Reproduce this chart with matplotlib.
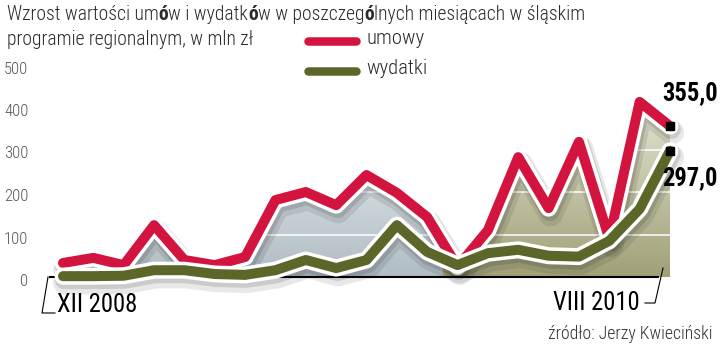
import numpy as np
import matplotlib
matplotlib.use("Agg")
import matplotlib.pyplot as plt
from matplotlib import font_manager as fm
from matplotlib.transforms import ScaledTranslation
import matplotlib.patheffects as pe
from matplotlib.colors import to_rgb

# ---------------- data ----------------
months = ["XII 2008", "I 2009", "II 2009", "III 2009", "IV 2009", "V 2009", "VI 2009",
          "VII 2009", "VIII 2009", "IX 2009", "X 2009", "XI 2009", "XII 2009",
          "I 2010", "II 2010", "III 2010", "IV 2010", "V 2010", "VI 2010", "VII 2010",
          "VIII 2010"]
umowy = [33, 45, 28, 122, 40, 28, 47, 181, 200, 169, 240, 198, 141,
         24, 110, 282, 162, 318, 90, 412, 355]
wydatki = [2, 2, 3, 16, 16, 7, 5, 16, 40, 21, 40, 122, 59,
           28, 56, 64, 50, 48, 85, 160, 297]
y_ticks = [0, 100, 200, 300, 400, 500]
series_names = ["umowy", "wydatki"]
end_labels = ["355,0", "297,0"]
title_parts = [("Wzrost wartości um", False), ("ó", True), ("w i wydatk", False),
               ("ó", True), ("w w poszczeg", False), ("ó", True),
               ("lnych miesiącach w śląskim", False)]
title_line2 = "programie regionalnym, w mln zł"
source = "źródło: Jerzy Kwieciński"

RED = "#d3143f"
OLIVE = "#5b6628"

# ---------------- fonts ----------------
avail = {}
for f in fm.fontManager.ttflist:
    avail.setdefault(f.name, set()).add(f.weight)


def pick(names):
    for n in names:
        if n in avail:
            return n
    return "DejaVu Sans"


NARROW = pick(["Liberation Sans Narrow", "Roboto Condensed", "Open Sans Condensed",
               "Roboto", "Liberation Sans"])
LIGHT_W = "light" if any(w in (200, 300, "light") for w in avail.get(NARROW, [])) else "normal"

# ---------------- figure / axes ----------------
W, H = 720, 344
fig = plt.figure(figsize=(W / 100, H / 100), dpi=100)

X0_PX, STEP_PX = 63, 30.35          # month index 0 position and spacing
ZERO_PX, PX_UNIT = 277, 0.425       # baseline and pixels per mln zl
AX_L, AX_R, AX_T = 45, 690, 60

ax = fig.add_axes([AX_L / W, (H - ZERO_PX) / H, (AX_R - AX_L) / W, (ZERO_PX - AX_T) / H])
xlim = ((AX_L - X0_PX) / STEP_PX, (AX_R - X0_PX) / STEP_PX)
ymax = (ZERO_PX - AX_T) / PX_UNIT
ax.patch.set_visible(False)

x = np.arange(len(months))

# area under "umowy" with year-alternating gradient
poly = ax.fill_between(x, 0, umowy, facecolor="none", edgecolor="none", zorder=1)
clip = poly.get_paths()[0]

nx, ny = 600, 200
xs_img = np.linspace(xlim[0], xlim[1], nx)
years = np.array([m.split()[-1] for m in months])
year_of_col = years[np.clip(np.round(xs_img).astype(int), 0, len(months) - 1)]
t = np.linspace(0, 1, ny)[:, None, None]
blue = np.array(to_rgb("#b0bdc3")) * (1 - t) + np.array(to_rgb("#ffffff")) * t
olive = np.array(to_rgb("#a0a077")) * (1 - t) + np.array(to_rgb("#f4f4ea")) * t
mask = (year_of_col == "2009")[None, :, None]
img = np.where(mask, blue, olive)
im = ax.imshow(img, extent=(xlim[0], xlim[1], 0, ymax), origin="lower", aspect="auto",
               zorder=1, interpolation="bilinear")
im.set_clip_path(clip, ax.transData)

for v in y_ticks[1:4]:
    gl = ax.axhline(v, color="white", lw=1.1, zorder=1.5)
    gl.set_clip_path(clip, ax.transData)


def fx(lw_px):
    return lw_px * 0.72


for y, col in [(umowy, RED), (wydatki, OLIVE)]:
    ax.plot(x, y, color=col, lw=fx(10), solid_capstyle="round", solid_joinstyle="round",
            zorder=3, clip_on=False,
            path_effects=[pe.SimpleLineShadow(offset=(1.5, -4.5), shadow_color="black",
                                              alpha=0.09, linewidth=fx(24)),
                          pe.SimpleLineShadow(offset=(1, -2.5), shadow_color="black",
                                              alpha=0.12, linewidth=fx(19)),
                          pe.Stroke(linewidth=fx(17), foreground="white"),
                          pe.Normal()])
    ax.plot(x[-1], y[-1], marker="s", ms=5.2, mfc="black", mec="black", zorder=6,
            clip_on=False)

ax.set_xlim(*xlim)
ax.set_ylim(0, ymax)
for s in ["left", "right", "top"]:
    ax.spines[s].set_visible(False)
ax.spines["bottom"].set_bounds(x[0] - 0.43, x[-1] - 0.4)
ax.spines["bottom"].set_linewidth(1.5)
ax.spines["bottom"].set_color("black")
ax.set_xticks([])
ax.set_yticks(y_ticks)
ax.set_yticklabels([str(v) for v in y_ticks], fontsize=12, color="#555555",
                   family=NARROW, fontweight=LIGHT_W)
ax.tick_params(axis="y", length=0, pad=12)
for lbl in ax.get_yticklabels():
    lbl.set_transform(lbl.get_transform() + ScaledTranslation(0, -0.03, fig.dpi_scale_trans))

# end value labels
lab_r = ax.annotate(end_labels[0], xy=(x[-1], umowy[-1]), xytext=(-8, 26),
                    textcoords="offset pixels", ha="left", va="baseline",
                    fontsize=15, fontweight="bold", family=NARROW, color="black",
                    annotation_clip=False)
lab_g = ax.annotate(end_labels[1], xy=(x[-1], wydatki[-1]), xytext=(-8, -34),
                    textcoords="offset pixels", ha="left", va="baseline",
                    fontsize=15, fontweight="bold", family=NARROW, color="black",
                    annotation_clip=False)

# ---------------- overlay (pixel coordinates) ----------------
ov = fig.add_axes([0, 0, 1, 1])
ov.set_xlim(0, W)
ov.set_ylim(H, 0)
ov.axis("off")
ov.patch.set_visible(False)

TC = "#2b2b2b"
pieces = []
first = ov.text(7, 20, title_parts[0][0], ha="left", va="baseline", fontsize=14,
                family=NARROW, fontweight=LIGHT_W, color=TC)
pieces.append(first)
prev = first
for txt, bold in title_parts[1:]:
    a = ov.annotate(txt, xy=(1, 0), xycoords=prev, ha="left", va="bottom", fontsize=14,
                    family=NARROW, fontweight=("bold" if bold else LIGHT_W), color=TC)
    pieces.append(a)
    prev = a
line2 = ov.text(7, 45, title_line2, ha="left", va="baseline", fontsize=14,
                family=NARROW, fontweight=LIGHT_W, color=TC)

leg_texts = []
for name, col, yc, base in [(series_names[0], RED, 41, 44), (series_names[1], OLIVE, 71, 74)]:
    ov.plot([308, 356], [yc, yc], color=col, lw=fx(8.5), solid_capstyle="round")
    leg_texts.append(ov.text(366, base, name, ha="left", va="baseline", fontsize=14,
                             family=NARROW, fontweight=LIGHT_W, color=TC))

d_start = ov.text(57, 312, months[0], ha="left", va="baseline", fontsize=15,
                  family=NARROW, color="black")
d_end = ov.text(640, 310, months[-1], ha="right", va="baseline", fontsize=15,
                family=NARROW, color="black")
ov.plot([48, 42, 55], [277, 313, 313], color="black", lw=0.8)
ov.plot([645, 655, 663], [303, 303, 268], color="black", lw=0.8)

src = ov.text(713, 339, source, ha="right", va="baseline", fontsize=11,
              family=NARROW, fontweight=LIGHT_W, color="#333333")


def fit_width(texts, target):
    fig.canvas.draw()
    r = fig.canvas.get_renderer()
    bbs = [tt.get_window_extent(r) for tt in texts]
    w = max(b.x1 for b in bbs) - min(b.x0 for b in bbs)
    k = target / w
    for tt in texts:
        tt.set_fontsize(tt.get_fontsize() * k)


fit_width(pieces, 581)
fs = pieces[0].get_fontsize()
line2.set_fontsize(fs)
for tt in leg_texts:
    tt.set_fontsize(fs * 1.05)
fit_width([d_start], 80)
d_end.set_fontsize(d_start.get_fontsize())
fit_width([lab_r], 56)
lab_g.set_fontsize(lab_r.get_fontsize())
fit_width([src], 165)

fig.savefig("out.png", dpi=100)
